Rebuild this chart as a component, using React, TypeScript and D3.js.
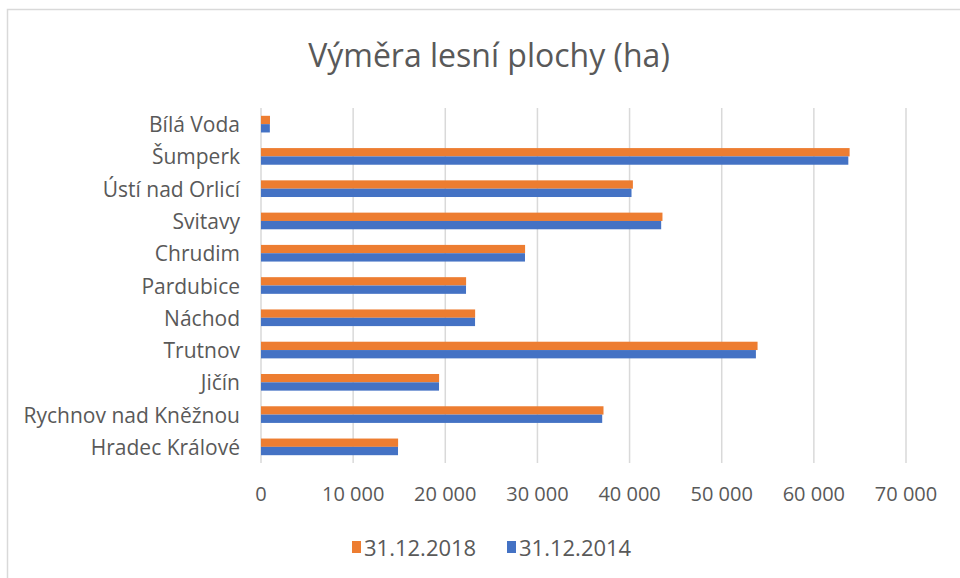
import React from "react";
import * as d3 from "d3";

const categories = [
  "Bílá Voda",
  "Šumperk",
  "Ústí nad Orlicí",
  "Svitavy",
  "Chrudim",
  "Pardubice",
  "Náchod",
  "Trutnov",
  "Jičín",
  "Rychnov nad Kněžnou",
  "Hradec Králové",
];
const values2018 = [975, 63880, 40360, 43570, 28660, 22260, 23240, 53890, 19330, 37170, 14880];
const values2014 = [960, 63740, 40210, 43430, 28650, 22250, 23230, 53710, 19320, 37030, 14870];
const tickValues = [0, 10000, 20000, 30000, 40000, 50000, 60000, 70000];
const tickLabels = ["0", "10 000", "20 000", "30 000", "40 000", "50 000", "60 000", "70 000"];
const seriesNames = ["31.12.2018", "31.12.2014"];
const seriesColors = ["#ED7D31", "#4472C4"];
const title = "Výměra lesní plochy (ha)";

const W = 960;
const H = 578;
const FONT = "'Open Sans', sans-serif";
const TXT = "#595959";

export default function App() {
  const x = d3.scaleLinear().domain([0, 70000]).range([261, 906]);
  const y = d3.scaleBand<string>().domain(categories).range([108, 463]).padding(0);
  const bw = y.bandwidth();
  const barH = bw * 0.258;

  return (
    <svg
      width={W}
      height={H}
      style={{ position: "absolute", left: 0, top: 0, background: "#fff" }}
      fontFamily={FONT}
    >
      <rect x={7.5} y={9.5} width={1000} height={1000} fill="#fff" stroke="#d9d9d9" strokeWidth={1.5} />
      <text x={489} y={58} textAnchor="middle" fontSize={32} fill={TXT} dominantBaseline="middle">
        {title}
      </text>
      {tickValues.map((t) => (
        <line key={"g" + t} x1={x(t)} x2={x(t)} y1={108} y2={463} stroke="#d9d9d9" strokeWidth={1.5} />
      ))}
      {categories.map((c, i) => {
        const cy = (y(c) as number) + bw / 2;
        return (
          <g key={c}>
            <rect x={x(0)} y={cy - barH} width={x(values2018[i]) - x(0)} height={barH} fill={seriesColors[0]} />
            <rect x={x(0)} y={cy} width={x(values2014[i]) - x(0)} height={barH} fill={seriesColors[1]} />
            <text x={240} y={cy} textAnchor="end" dominantBaseline="central" fontSize={21} fill={TXT}>
              {c}
            </text>
          </g>
        );
      })}
      {tickValues.map((t, i) => (
        <text key={"t" + t} x={x(t)} y={493} textAnchor="middle" dominantBaseline="central" fontSize={20} fill={TXT}>
          {tickLabels[i]}
        </text>
      ))}
      <g>
        <rect x={352} y={541} width={9} height={12} fill={seriesColors[0]} />
        <text x={364} y={547} dominantBaseline="central" fontSize={22} fill={TXT}>
          {seriesNames[0]}
        </text>
        <rect x={507} y={541} width={9} height={12} fill={seriesColors[1]} />
        <text x={519} y={547} dominantBaseline="central" fontSize={22} fill={TXT}>
          {seriesNames[1]}
        </text>
      </g>
    </svg>
  );
}
